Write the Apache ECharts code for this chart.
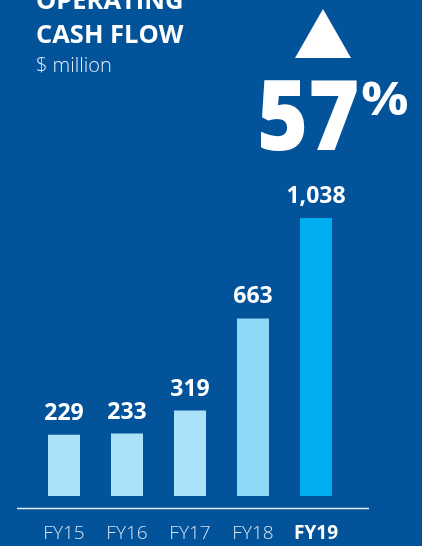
<!DOCTYPE html>
<html>
<head>
<meta charset="utf-8">
<style>
  html, body { margin: 0; padding: 0; background: #02539A; }
  #chart { width: 422px; height: 546px; }
</style>
<script src="https://cdn.jsdelivr.net/npm/echarts@6/dist/echarts.min.js"></script>
</head>
<body>
<div id="chart"></div>
<script>
// Operating cash flow, $ million
const categories = ['FY15', 'FY16', 'FY17', 'FY18', 'FY19'];
const values = [229, 233, 319, 663, 1038];
const barColors = ['#ACE1FA', '#ACE1FA', '#ACE1FA', '#8ED8F8', '#00AEEF'];
const growthLabel = '57';

const chart = echarts.init(document.getElementById('chart'), null, { renderer: 'canvas' });

const fontFamily = '"Open Sans", "Noto Sans", sans-serif';

chart.setOption({
  backgroundColor: '#02539A',
  animation: false,
  grid: { left: 32.5, width: 315, top: 174.6, bottom: 50, containLabel: false },
  xAxis: {
    type: 'category',
    data: categories,
    axisLine: { show: false },
    axisTick: { show: false },
    axisLabel: {
      interval: 0,
      margin: 28,
      formatter: function (v, i) {
        return i === categories.length - 1 ? '{cur|' + v + '}' : '{old|' + v + '}';
      },
      rich: {
        old: { fontFamily: fontFamily, fontSize: 19, color: '#D5E3F0', fontWeight: 300 },
        cur: { fontFamily: fontFamily, fontSize: 19, color: '#FFFFFF', fontWeight: 'bold' }
      }
    }
  },
  yAxis: {
    type: 'value',
    min: 0,
    max: 1200,
    show: false,
    splitLine: { show: false }
  },
  series: [{
    type: 'bar',
    barWidth: 32,
    data: values.map((v, i) => ({ value: v, itemStyle: { color: barColors[i] } })),
    label: {
      show: true,
      position: 'top',
      distance: 10,
      color: '#FFFFFF',
      fontFamily: fontFamily,
      fontSize: 23,
      fontWeight: 'bold',
      formatter: p => p.value.toLocaleString('en-US')
    }
  }],
  graphic: [
    // baseline rule under the bars
    { type: 'line', shape: { x1: 17, y1: 508.5, x2: 369, y2: 508.5 },
      style: { stroke: '#E4EDF6', lineWidth: 1.5 }, silent: true },
    // heading
    { type: 'text', left: 36, top: -11,
      style: { text: 'OPERATING', fill: '#FFFFFF', font: 'bold 25.5px ' + fontFamily } },
    { type: 'text', left: 36, top: 23,
      style: { text: 'CASH FLOW', fill: '#FFFFFF', font: 'bold 25.5px ' + fontFamily } },
    { type: 'text', left: 36, top: 56,
      style: { text: '$ million', fill: '#E6EEF6', font: '300 20px ' + fontFamily } },
    // growth indicator
    { type: 'polygon', shape: { points: [[323, 9], [295, 58], [351, 58]] },
      style: { fill: '#FFFFFF' }, silent: true },
    { type: 'text', x: 257, y: 74, scaleX: 0.9,
      style: { text: growthLabel, fill: '#FFFFFF', font: '800 97px ' + fontFamily } },
    { type: 'text', x: 361, y: 79, scaleX: 1.15,
      style: { text: '%', fill: '#FFFFFF', font: 'bold 46px ' + fontFamily } }
  ]
});
</script>
</body>
</html>
